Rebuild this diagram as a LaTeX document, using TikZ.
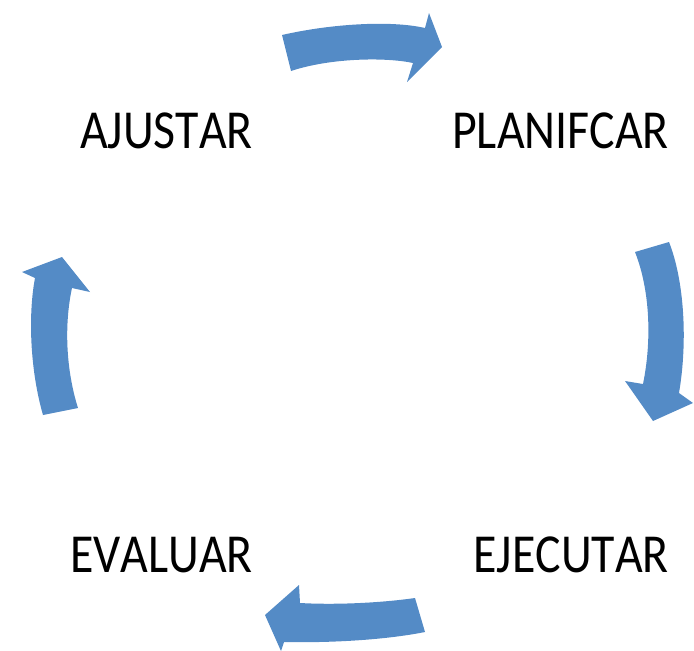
\documentclass[tikz,border=0pt]{standalone}
\usepackage{fontspec}
\setmainfont[Kerning=Off]{Carlito}
\usepackage{xcolor}
\usepackage{tikz}
\definecolor{flechaazul}{RGB}{84,139,198}

\begin{document}
\begin{tikzpicture}[
  x=1pt,y=-1pt,
  lbl/.style={anchor=base east,inner sep=0pt,font=\fontsize{55}{60}\selectfont},
  flecha/.style={fill=flechaazul,draw=none}]
\useasboundingbox (0,0) rectangle (694,651);
\node[lbl] (ajustar) at (253,148) {\scalebox{0.87}[1]{AJUSTAR}};
\node[lbl] (planif) at (669,148) {\scalebox{0.87}[1]{PLANIFCAR}};
\node[lbl] (evaluar) at (253,572) {\scalebox{0.87}[1]{EVALUAR}};
\node[lbl] (ejecutar) at (669,572) {\scalebox{0.87}[1]{EJECUTAR}};
% ajustar -> planificar
\fill[flecha] (282,35) .. controls (330,24) and (390,20) .. (425,28) -- (429,13) -- (442,47)
  -- (407,82) -- (413,63) .. controls (385,57) and (330,58) .. (291,71) -- cycle;
% planificar -> ejecutar
\fill[flecha] (669,242) .. controls (684,280) and (688,340) .. (679,393) -- (693,403) -- (653,421)
  -- (625,381) -- (643,384) .. controls (652,340) and (650,290) .. (635,252) -- cycle;
% ejecutar -> evaluar
\fill[flecha] (415,598) .. controls (380,603) and (335,605) .. (300,603) -- (299,585) -- (265,615)
  -- (281,651) -- (284,642) .. controls (330,643) and (385,640) .. (425,632) -- cycle;
% evaluar -> ajustar
\fill[flecha] (78,408) .. controls (66,370) and (64,325) .. (72,288) -- (90,292) -- (62,257)
  -- (22,272) -- (35,278) .. controls (28,315) and (30,370) .. (43,415) -- cycle;
\end{tikzpicture}
\end{document}
